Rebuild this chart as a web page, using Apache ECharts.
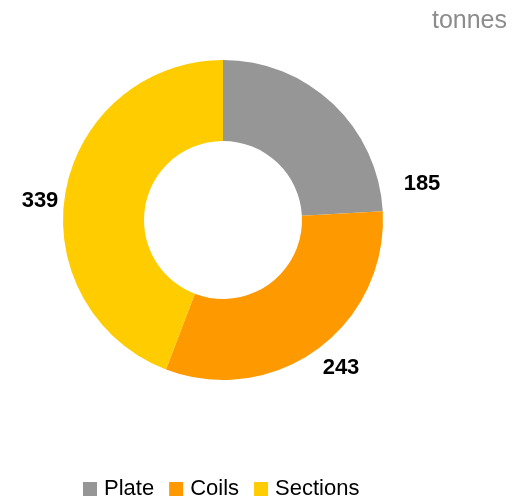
<!DOCTYPE html>
<html>
<head>
<meta charset="utf-8">
<script src="https://cdn.jsdelivr.net/npm/echarts@6/dist/echarts.min.js"></script>
<style>
  html, body { margin: 0; padding: 0; background: #fff; }
  #chart { width: 516px; height: 498px; }
</style>
</head>
<body>
<div id="chart"></div>
<script>
// Product categories and tonnages
const categories = ['Plate', 'Coils', 'Sections'];
const tonnes = [185, 243, 339];
const colors = ['#969696', '#FF9900', '#FFCC00'];
const unitLabel = 'tonnes';

// Value label anchor points beside each ring segment
const labelSpots = [[422, 184], [341, 368], [40, 201]];

const chart = echarts.init(document.getElementById('chart'), null, { renderer: 'canvas' });

const data = categories.map((name, i) => ({
  name: name,
  value: tonnes[i],
  itemStyle: { color: colors[i] }
}));

chart.setOption({
  animation: false,
  title: {
    text: unitLabel,
    right: 4,
    top: 4,
    textStyle: {
      fontFamily: 'Liberation Sans, Arial, sans-serif',
      fontSize: 25,
      fontWeight: 'normal',
      color: '#8c8c8c'
    }
  },
  legend: {
    data: categories,
    left: 83,
    top: 478,
    padding: 0,
    icon: 'rect',
    itemWidth: 14,
    itemHeight: 14,
    itemGap: 15,
    textStyle: {
      fontFamily: 'Liberation Sans, Arial, sans-serif',
      fontSize: 22,
      color: '#000',
      padding: [0, 0, 0, 2]
    }
  },
  series: [{
    type: 'pie',
    center: [223, 220],
    radius: [79, 160],
    startAngle: 90,
    clockwise: true,
    silent: true,
    avoidLabelOverlap: false,
    data: data,
    label: {
      show: true,
      position: 'outside',
      formatter: '{c}',
      overflow: 'none',
      bleedMargin: 0,
      fontFamily: 'Liberation Sans, Arial, sans-serif',
      fontSize: 22,
      fontWeight: 'bold',
      color: '#000'
    },
    labelLine: { show: false, length: 4, length2: 0 },
    labelLayout: function (params) {
      const p = labelSpots[params.dataIndex];
      return { x: p[0], y: p[1], align: 'center', verticalAlign: 'middle' };
    }
  }]
});
</script>
</body>
</html>
